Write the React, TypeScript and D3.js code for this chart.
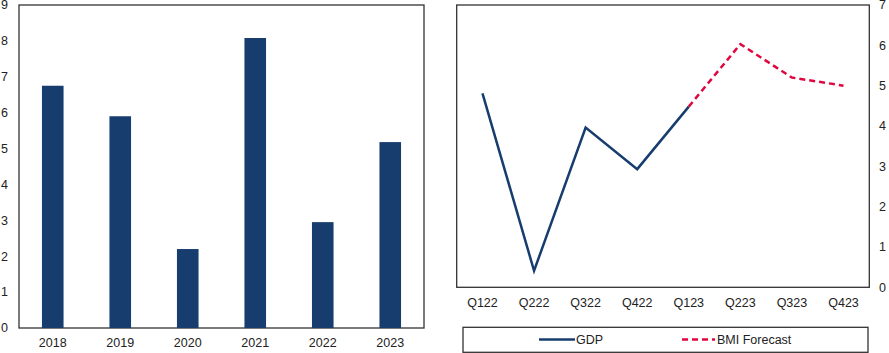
import * as d3 from "d3";
import React from "react";

const years = ["2018", "2019", "2020", "2021", "2022", "2023"];
const annualGrowth = [6.75, 5.9, 2.2, 8.08, 2.95, 5.18];
const leftTicks = [0, 1, 2, 3, 4, 5, 6, 7, 8, 9];

const quarters = ["Q122", "Q222", "Q322", "Q422", "Q123", "Q223", "Q323", "Q423"];
const gdp = [4.81, 0.41, 3.96, 2.93, 4.48];
const forecast = [4.48, 6.03, 5.2, 5.0];
const rightTicks = [0, 1, 2, 3, 4, 5, 6, 7];

const NAVY = "#173C6E";
const RED = "#E0063F";
const FONT = "'Liberation Sans', Arial, sans-serif";
const TEXT = "#222";

const App = () => {
  // left bar chart
  const x1 = d3.scaleBand().domain(years).range([19, 424]).paddingInner(0.68).paddingOuter(0.34);
  const y1 = d3.scaleLinear().domain([0, 9]).range([328, 5]);

  // right line chart
  const x2 = d3.scalePoint().domain(quarters).range([456.7, 869.3]).padding(0.5);
  const y2 = d3.scaleLinear().domain([0, 7]).range([287.3, 5]);

  const line = d3
    .line<number>()
    .x((d, i) => x2(quarters[i])!)
    .y((d) => y2(d));
  const fLine = d3
    .line<number>()
    .x((d, i) => x2(quarters[i + gdp.length - 1])!)
    .y((d) => y2(d));

  return (
    <svg
      width={889}
      height={353}
      style={{ position: "absolute", left: 0, top: 0, background: "#fff" }}
      fontFamily={FONT}
      fontSize={12.5}
    >
      {/* bar chart */}
      <rect x={19} y={5} width={405} height={323} fill="none" stroke="#333" strokeWidth={1.3} />
      {years.map((yr, i) => (
        <rect
          key={yr}
          x={x1(yr)}
          y={y1(annualGrowth[i])}
          width={x1.bandwidth()}
          height={y1(0) - y1(annualGrowth[i])}
          fill={NAVY}
        />
      ))}
      {leftTicks.map((t) => (
        <text key={t} x={8} y={y1(t)} dy="0.35em" textAnchor="end" fill={TEXT}>
          {t}
        </text>
      ))}
      {years.map((yr) => (
        <text key={yr} x={x1(yr)! + x1.bandwidth() / 2} y={343} dy="0.35em" textAnchor="middle" fill={TEXT}>
          {yr}
        </text>
      ))}

      {/* line chart */}
      <rect x={456.7} y={5} width={412.6} height={282.3} fill="none" stroke="#333" strokeWidth={1.3} />
      <path d={line(gdp)!} fill="none" stroke={NAVY} strokeWidth={2.5} />
      <path d={fLine(forecast)!} fill="none" stroke={RED} strokeWidth={2.5} strokeDasharray="6,4" />
      {rightTicks.map((t) => (
        <text key={t} x={879} y={y2(t)} dy="0.35em" textAnchor="start" fill={TEXT}>
          {t}
        </text>
      ))}
      {quarters.map((q) => (
        <text key={q} x={x2(q)} y={302.7} dy="0.35em" textAnchor="middle" fill={TEXT}>
          {q}
        </text>
      ))}

      {/* legend */}
      <rect x={463} y={327.3} width={405} height={25} fill="none" stroke="#333" strokeWidth={1.3} />
      <line x1={539} x2={575} y1={339.5} y2={339.5} stroke={NAVY} strokeWidth={2.5} />
      <text x={576} y={339.5} dy="0.35em" fill={TEXT}>GDP</text>
      <line x1={682} x2={715} y1={339.5} y2={339.5} stroke={RED} strokeWidth={2.5} strokeDasharray="6,4" />
      <text x={717} y={339.5} dy="0.35em" fill={TEXT}>BMI Forecast</text>
    </svg>
  );
};

export default App;
